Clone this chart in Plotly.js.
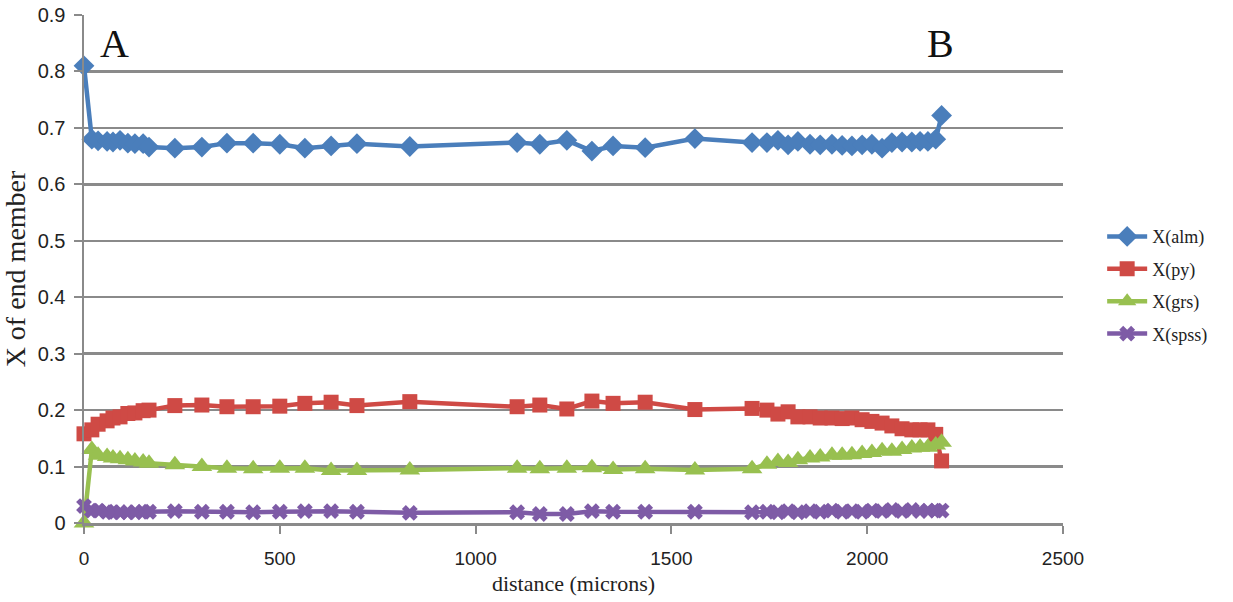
<!DOCTYPE html>
<html>
<head>
<meta charset="utf-8">
<script src="https://cdn.plot.ly/plotly-3.0.1.min.js"></script>
<style>html,body{margin:0;padding:0;background:#fff;}#chart{width:1233px;height:602px;}</style>
</head>
<body>
<div id="chart"></div>
<script>
const distance = [0,20,36,59,74,92,112,130,151,166,232,301,365,432,500,564,631,697,832,1106,1164,1233,1297,1351,1433,1560,1706,1744,1772,1798,1823,1854,1880,1910,1936,1961,1987,2012,2038,2063,2089,2114,2135,2155,2175,2190];
const xAlm = [0.81,0.68,0.677,0.676,0.675,0.678,0.673,0.672,0.672,0.666,0.664,0.666,0.673,0.673,0.671,0.664,0.668,0.672,0.667,0.674,0.671,0.678,0.659,0.668,0.665,0.681,0.674,0.674,0.678,0.670,0.676,0.671,0.670,0.671,0.669,0.668,0.670,0.671,0.664,0.674,0.675,0.675,0.676,0.676,0.680,0.722];
const xPy = [0.158,0.165,0.175,0.181,0.186,0.188,0.194,0.195,0.199,0.200,0.208,0.209,0.206,0.206,0.207,0.212,0.214,0.208,0.215,0.206,0.209,0.202,0.216,0.212,0.214,0.201,0.203,0.200,0.193,0.197,0.188,0.188,0.186,0.186,0.185,0.186,0.183,0.180,0.177,0.172,0.167,0.165,0.165,0.165,0.157,0.110];
const xGrs = [0.0,0.130,0.120,0.118,0.115,0.114,0.112,0.110,0.108,0.106,0.103,0.100,0.097,0.096,0.097,0.097,0.093,0.093,0.094,0.097,0.096,0.097,0.098,0.095,0.096,0.094,0.096,0.104,0.109,0.107,0.112,0.115,0.117,0.120,0.120,0.121,0.123,0.125,0.128,0.127,0.130,0.133,0.134,0.134,0.138,0.143];
const xSpss = [0.030,0.022,0.022,0.020,0.019,0.019,0.019,0.019,0.020,0.020,0.021,0.020,0.020,0.019,0.020,0.021,0.021,0.020,0.018,0.019,0.016,0.016,0.021,0.020,0.020,0.020,0.019,0.020,0.019,0.021,0.019,0.021,0.020,0.022,0.020,0.021,0.020,0.022,0.021,0.023,0.021,0.023,0.021,0.022,0.022,0.022];
const seriesNames = ['X(alm)','X(py)','X(grs)','X(spss)'];
const xTicks = [0,500,1000,1500,2000,2500];
const yTicks = [0,0.1,0.2,0.3,0.4,0.5,0.6,0.7,0.8,0.9];

const colors = ['#4a7ebb','#cf4a45','#98c050','#7e5ba6'];
const symbols = ['diamond','square','triangle-up','x'];
const sizes = [16,15,18,14];
const ys = [xAlm,xPy,xGrs,xSpss];

const traces = ys.map((y,i)=>({
  x: distance, y: y, name: seriesNames[i], type:'scatter', mode:'lines+markers',
  legendgroup:'g'+i,
  line:{color:colors[i], width:4.5},
  marker:{symbol:symbols[i], size:sizes[i], color:colors[i], line:{width:0, color:colors[i]}},
  cliponaxis:false
}));

const grey = '#8a8a8a';
const layout = {
  width:1233, height:602,
  font:{family:'Liberation Sans, Arial, sans-serif', size:19, color:'#222'},
  margin:{l:84, r:170, t:15, b:79},
  paper_bgcolor:'#fff', plot_bgcolor:'#fff',
  showlegend:true,
  legend:{x:1.04, y:0.6, xanchor:'left', yanchor:'top', font:{family:'Liberation Serif, Times New Roman, serif', size:18, color:'#222'}, tracegroupgap:6, itemwidth:40},
  xaxis:{range:[0,2500], tickmode:'array', tickvals:xTicks, ticktext:xTicks.map(String), showgrid:false, zeroline:false,
    showline:true, linecolor:grey, linewidth:2.5, ticks:'outside', ticklen:8, tickwidth:2, tickcolor:grey,
    ticklabelstandoff:9,
    tickfont:{family:'Liberation Sans Narrow, Liberation Sans, Arial, sans-serif', size:19, color:'#222'},
    title:{text:'distance (microns)', font:{family:'Liberation Serif, Times New Roman, serif', size:22, color:'#222'}, standoff:8}},
  yaxis:{range:[0,0.9], tickmode:'array', tickvals:yTicks, ticktext:yTicks.map(v=>String(v)), showgrid:true, gridcolor:grey, gridwidth:2.5, zeroline:false,
    showline:true, linecolor:grey, linewidth:2.5, ticks:'outside', ticklen:8, tickwidth:2, tickcolor:grey,
    ticklabelstandoff:4,
    tickfont:{family:'Liberation Sans, Arial, sans-serif', size:20, color:'#222'},
    title:{text:'X of end member', font:{family:'Liberation Serif, Times New Roman, serif', size:28, color:'#222'}, standoff:6}},
  annotations:[
    {text:'A', xref:'paper', yref:'paper', x:0.031, y:0.943, xanchor:'center', yanchor:'middle', showarrow:false, font:{family:'Liberation Serif, Times New Roman, serif', size:40, color:'#111'}},
    {text:'B', xref:'paper', yref:'paper', x:0.875, y:0.943, xanchor:'center', yanchor:'middle', showarrow:false, font:{family:'Liberation Serif, Times New Roman, serif', size:40, color:'#111'}}
  ]
};
Plotly.newPlot('chart', traces, layout, {displayModeBar:false, staticPlot:true});
</script>
</body>
</html>
